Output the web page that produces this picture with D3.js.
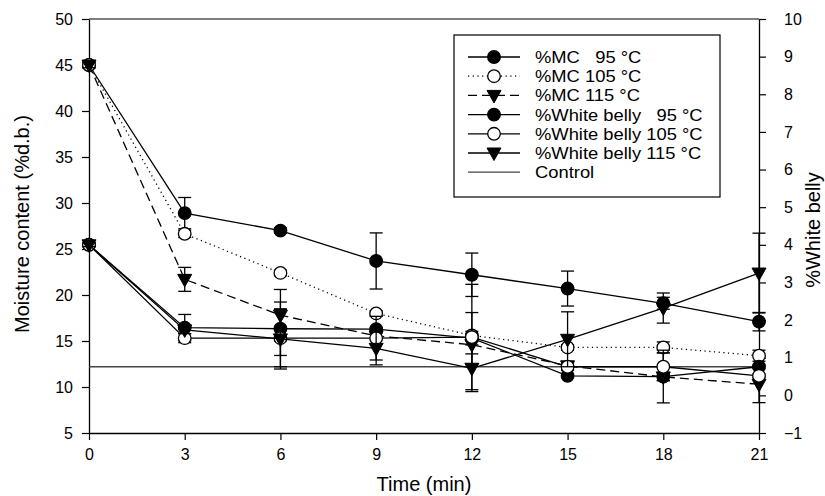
<!DOCTYPE html>
<html><head><meta charset="utf-8">
<script src="https://cdn.jsdelivr.net/npm/d3@7"></script>
<style>
body{margin:0;background:#fff}
svg text{font-family:"Liberation Sans",Arial,sans-serif;fill:#000}
</style>
</head><body><svg id="chart" width="825" height="496"></svg>
<script>
// ---- data ----
const time = [0, 3, 6, 9, 12, 15, 18, 21];
const xTicks = [0, 3, 6, 9, 12, 15, 18, 21];
const leftTicks = [5, 10, 15, 20, 25, 30, 35, 40, 45, 50];
const rightTicks = [-1, 0, 1, 2, 3, 4, 5, 6, 7, 8, 9, 10];

const mc95 = [45, 28.9, 27.0, 23.7, 22.2, 20.7, 19.1, 17.1];
const mc95Err = [0.3, 1.7, 0.3, 3.05, 2.36, 1.9, 0.65, 1.0];
const mc105 = [45, 26.65, 22.4, 18.0, 15.6, 14.3, 14.3, 13.4];
const mc105Err = [0.3, 0.4, 0.3, 0.3, 0.45, 0.3, 0.6, 0.6];
const mc115 = [45, 21.7, 17.8, 15.55, 14.6, 12.3, 11.1, 10.3];
const mc115Err = [0.3, 1.3, 2.8, 0.3, 1.0, 0.4, 0.4, 2.0];
const wb95 = [4.0, 1.8, 1.77, 1.76, 1.52, 0.52, 0.5, 0.76];
const wb95Err = [0.05, 0.35, 0.71, 0.05, 0.68, 0.05, 0.7, 0.05];
const wb105 = [4.0, 1.52, 1.52, 1.52, 1.55, 0.76, 0.76, 0.52];
const wb105Err = [0.05, 0.12, 0.76, 0.58, 1.4, 0.1, 0.37, 0.05];
const wb115 = [4.0, 1.74, 1.5, 1.25, 0.72, 1.49, 2.32, 3.25];
const wb115Err = [0.05, 0.1, 0.8, 0.44, 0.62, 0.73, 0.4, 1.06];
const controlValue = 12.2;

const legendLabels = ["%MC   95 °C", "%MC 105 °C", "%MC 115 °C",
  "%White belly   95 °C", "%White belly 105 °C", "%White belly 115 °C", "Control"];

// ---- layout ----
const svg = d3.select("#chart");
const X0 = 89, X1 = 759, Y0 = 433, Y1 = 19;
const x = d3.scaleLinear().domain([0, 21]).range([X0, X1]);
const yL = d3.scaleLinear().domain([5, 50]).range([Y0, Y1]);
const yR = d3.scaleLinear().domain([-1, 10]).range([Y0, Y1]);

function stretch(sel, f) {
  sel.each(function () {
    const len = this.getComputedTextLength();
    d3.select(this).attr("textLength", len * f).attr("lengthAdjust", "spacingAndGlyphs");
  });
}

// frame top
svg.append("line").attr("x1", X0).attr("x2", X1).attr("y1", Y1).attr("y2", Y1)
  .attr("stroke", "#000").attr("stroke-width", 1.2);

const axL = svg.append("g").attr("transform", `translate(${X0},0)`)
  .call(d3.axisLeft(yL).tickValues(leftTicks).tickSize(7).tickSizeOuter(0).tickPadding(9));
const axR = svg.append("g").attr("transform", `translate(${X1},0)`)
  .call(d3.axisRight(yR).tickValues(rightTicks).tickSize(7).tickSizeOuter(0).tickPadding(18));
const axB = svg.append("g").attr("transform", `translate(0,${Y0})`)
  .call(d3.axisBottom(x).tickValues(xTicks).tickSize(7).tickSizeOuter(0).tickPadding(9));
[axL, axR, axB].forEach(a => {
  a.select(".domain").attr("stroke", "#000").attr("stroke-width", 1.3);
  a.selectAll(".tick line").attr("stroke", "#000").attr("stroke-width", 1.2);
  a.selectAll(".tick text").style("font-size", "16px").attr("fill", "#000");
});

svg.append("text").attr("x", (X0 + X1) / 2).attr("y", 491).attr("text-anchor", "middle")
  .style("font-size", "20px").text("Time (min)");
svg.append("text").attr("transform", `translate(29,${(Y0 + Y1) / 2 - 2}) rotate(-90)`)
  .attr("text-anchor", "middle").style("font-size", "20px").text("Moisture content (%d.b.)");
svg.append("text").attr("transform", `translate(820,230) rotate(-90)`)
  .attr("text-anchor", "middle").style("font-size", "20px").text("%White belly");

// control line
svg.append("line").attr("x1", x(0)).attr("x2", x(21))
  .attr("y1", yL(controlValue)).attr("y2", yL(controlValue))
  .attr("stroke", "#444").attr("stroke-width", 1.3);

const series = [
  {v: mc95, e: mc95Err, y: yL, m: "circle", fill: "#000", dash: null},
  {v: mc105, e: mc105Err, y: yL, m: "circle", fill: "#fff", dash: "1.2,3.5"},
  {v: mc115, e: mc115Err, y: yL, m: "tri", fill: "#000", dash: "9,5"},
  {v: wb95, e: wb95Err, y: yR, m: "circle", fill: "#000", dash: null},
  {v: wb105, e: wb105Err, y: yR, m: "circle", fill: "#fff", dash: null},
  {v: wb115, e: wb115Err, y: yR, m: "tri", fill: "#000", dash: null}
];

function drawMarker(g, type, fill, cx, cy) {
  if (type === "circle") {
    g.append("circle").attr("cx", cx).attr("cy", cy).attr("r", 6.3)
      .attr("fill", fill).attr("stroke", "#000").attr("stroke-width", 1.3);
  } else {
    g.append("path").attr("d", `M${cx - 7},${cy - 5} L${cx + 7},${cy - 5} L${cx},${cy + 7.5} Z`)
      .attr("fill", fill).attr("stroke", "#000").attr("stroke-width", 1);
  }
}

series.forEach(s => {
  const g = svg.append("g");
  const line = d3.line().x((d, i) => x(time[i])).y(d => s.y(d));
  g.append("path").attr("d", line(s.v)).attr("fill", "none").attr("stroke", "#000")
    .attr("stroke-width", 1.3).attr("stroke-dasharray", s.dash);
  s.v.forEach((d, i) => {
    const cx = x(time[i]), top = s.y(d + s.e[i]), bot = s.y(d - s.e[i]);
    g.append("line").attr("x1", cx).attr("x2", cx).attr("y1", top).attr("y2", bot)
      .attr("stroke", "#000").attr("stroke-width", 1.3);
    [top, bot].forEach(yy => g.append("line").attr("x1", cx - 6.5).attr("x2", cx + 6.5)
      .attr("y1", yy).attr("y2", yy).attr("stroke", "#000").attr("stroke-width", 1.3));
  });
  s.v.forEach((d, i) => drawMarker(g, s.m, s.fill, x(time[i]), s.y(d)));
});

// legend
const lg = svg.append("g");
lg.append("rect").attr("x", 454).attr("y", 35).attr("width", 266).attr("height", 162)
  .attr("fill", "#fff").attr("stroke", "#000").attr("stroke-width", 1.2);
legendLabels.forEach((lab, i) => {
  const yy = 57 + i * 19.2;
  const s = series[i];
  lg.append("line").attr("x1", 468).attr("x2", 520).attr("y1", yy).attr("y2", yy)
    .attr("stroke", i === 6 ? "#444" : "#000").attr("stroke-width", 1.3)
    .attr("stroke-dasharray", s ? s.dash : null);
  if (s) drawMarker(lg, s.m, s.fill, 494, yy);
  const t = lg.append("text").attr("x", 535).attr("y", yy + 6).style("font-size", "17px")
    .style("white-space", "pre").text(lab);
  stretch(t, 1.08);
});
</script>
</body></html>
